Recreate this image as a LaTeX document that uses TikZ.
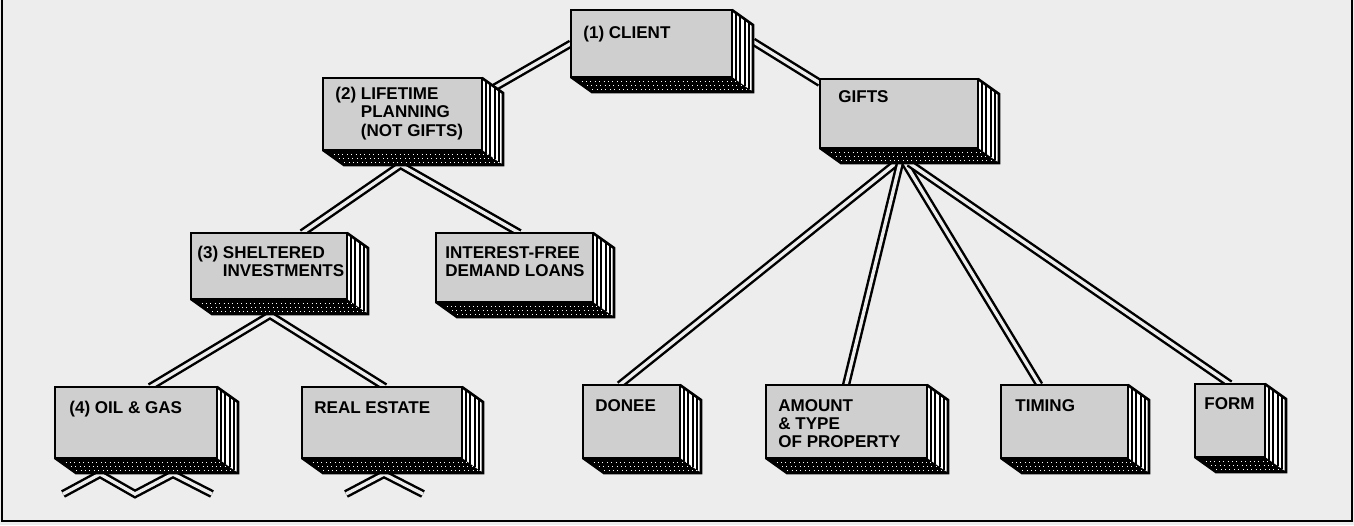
\documentclass[tikz,border=0pt]{standalone}
\usepackage{fontspec}
\setmainfont{Liberation Sans}
\usetikzlibrary{calc}
\pgfdeclarelayer{back}
\pgfdeclarelayer{wires}
\pgfsetlayers{back,wires,main}
\definecolor{bg}{gray}{0.93}
\definecolor{facegray}{gray}{0.81}
\tikzset{
  face/.style={draw=black, line width=1.5pt, fill=facegray, inner sep=0pt, outer sep=0pt, anchor=north west},
  lbl/.style={inner sep=0pt, anchor=north west, align=left, font=\fontsize{9.7}{10.4}\selectfont\bfseries},
  conn/.style={line width=1.4pt, double=bg, double distance=1.9pt, line join=miter},
  frameline/.style={line width=1.3pt},
}
\newcommand\dpx{21}
\newcommand\dpy{15}
% name, left, top, right, bottom
\newcommand\card[5]{%
  \node[face, minimum width={(#4-#2)*0.02cm}, minimum height={(#5-#3)*0.02cm}] (#1) at (#2,#3) {};
  \fill[white] (#1.north east) -- ++(\dpx,\dpy) -- ($(#1.south east)+(\dpx,\dpy)$) -- (#1.south east) -- cycle;
  \foreach \i in {0.2,0.4,0.6,0.8}
    \draw[line width=1.1pt] ($(#1.north east)+(\i*\dpx,\i*\dpy)$) -- ($(#1.south east)+(\i*\dpx,\i*\dpy)$);
  \fill[black] (#1.south west) -- (#1.south east) -- ++(\dpx,\dpy) -- ($(#1.south west)+(\dpx,\dpy)$) -- cycle;
  \foreach \i in {0.3,0.55,0.8}
    \draw[white, dotted, line width=0.5pt] ($(#1.south west)+(\i*\dpx,\i*\dpy)$) -- ($(#1.south east)+(\i*\dpx,\i*\dpy)$);
  \draw[line width=1.5pt, line join=miter] (#1.north east) -- ++(\dpx,\dpy) -- ($(#1.south east)+(\dpx,\dpy)$) -- ($(#1.south west)+(\dpx,\dpy)$) -- (#1.south west);
  \draw[line width=1.5pt] (#1.north west) rectangle (#1.south east);
}
\begin{document}
\begin{tikzpicture}[x=0.02cm, y=-0.02cm]
\useasboundingbox (0,0) rectangle (1354,525);
\begin{pgfonlayer}{back}
  \fill[bg] (0,0) rectangle (1354,525);
  \draw[frameline] (2,0) -- (2,521) -- (1352,521) -- (1352,0);
\end{pgfonlayer}

% boxes
\card{client}{571}{10}{732}{77}
\card{life}{323}{78}{482}{150}
\card{gifts}{820}{79}{978}{148}
\card{shelt}{191}{233}{347}{299}
\card{inter}{436}{233}{593}{302}
\card{oil}{55}{387}{217}{458}
\card{real}{302}{387}{462}{458}
\card{donee}{583}{385}{680}{458}
\card{amount}{766}{385}{927}{458}
\card{timing}{1001}{385}{1128}{458}
\card{form}{1195}{384}{1265}{457}

% labels
\node[lbl] (client-t) at ($(client.north west)+(12,16)$) {(1) CLIENT};
\node[lbl] (life-t) at ($(life.north west)+(12,9)$) {(2) LIFETIME\\\phantom{(2) }PLANNING\\\phantom{(2) }(NOT GIFTS)};
\node[lbl] (gifts-t) at ($(gifts.north west)+(18,11)$) {GIFTS};
\node[lbl] (shelt-t) at ($(shelt.north west)+(6,13)$) {(3) SHELTERED\\\phantom{(3) }INVESTMENTS};
\node[lbl] (inter-t) at ($(inter.north west)+(9,13)$) {INTEREST-FREE\\DEMAND LOANS};
\node[lbl] (oil-t) at ($(oil.north west)+(14,14)$) {(4) OIL \& GAS};
\node[lbl] (real-t) at ($(real.north west)+(12,14)$) {REAL ESTATE};
\node[lbl] (donee-t) at ($(donee.north west)+(12,14)$) {DONEE};
\node[lbl] (amount-t) at ($(amount.north west)+(12,14)$) {AMOUNT\\\& TYPE\\OF PROPERTY};
\node[lbl] (timing-t) at ($(timing.north west)+(14,14)$) {TIMING};
\node[lbl] (form-t) at ($(form.north west)+(9,13)$) {FORM};

% connector points
\coordinate (lifeA) at ($(life.south)+(-2,15)$);
\coordinate (sheltA) at ($(shelt.south)+(1,16)$);
\coordinate (giftsA) at ($(gifts.south)+(3,15)$);
\coordinate (oilA1) at ($(oil.south west)+(45,16)$);
\coordinate (oilA2) at ($(oil.south west)+(118,16)$);
\coordinate (oilE1) at ($(oil.south west)+(8,36)$);
\coordinate (oilE2) at ($(oil.south west)+(80,36)$);
\coordinate (oilE3) at ($(oil.south west)+(157,36)$);
\coordinate (realA) at ($(real.south west)+(82,16)$);
\coordinate (realE1) at ($(real.south west)+(44,36)$);
\coordinate (realE2) at ($(real.south west)+(121,36)$);

\begin{pgfonlayer}{wires}
  \draw[conn] (client.west) -- ($(life.north east)+(3,15)$);
  \draw[conn] ($(client.east)+(\dpx,-2)$) -- ($(gifts.north west)+(0,4)$);
  \draw[conn] ($(shelt.north)+(33,0)$) -- (lifeA) -- ($(inter.north)+(5,0)$);
  \draw[conn] ($(oil.north)+(14,0)$) -- (sheltA) -- ($(real.north)+(3,0)$);
  \draw[conn] (oilE1) -- (oilA1) -- (oilE2) -- (oilA2) -- (oilE3);
  \draw[conn] (realE1) -- (realA) -- (realE2);
  \draw[conn] ($(giftsA)+(-6,0)$) -- ($(donee.north)+(-12,0)$);
  \draw[conn] ($(giftsA)+(-2,0)$) -- ($(amount.north)+(-0.5,0)$);
  \draw[conn] ($(giftsA)+(3,0)$) -- ($(timing.north)+(-25,0)$);
  \draw[conn] ($(giftsA)+(7,0)$) -- ($(form.north)+(0,0)$);
\end{pgfonlayer}
\end{tikzpicture}
\end{document}
